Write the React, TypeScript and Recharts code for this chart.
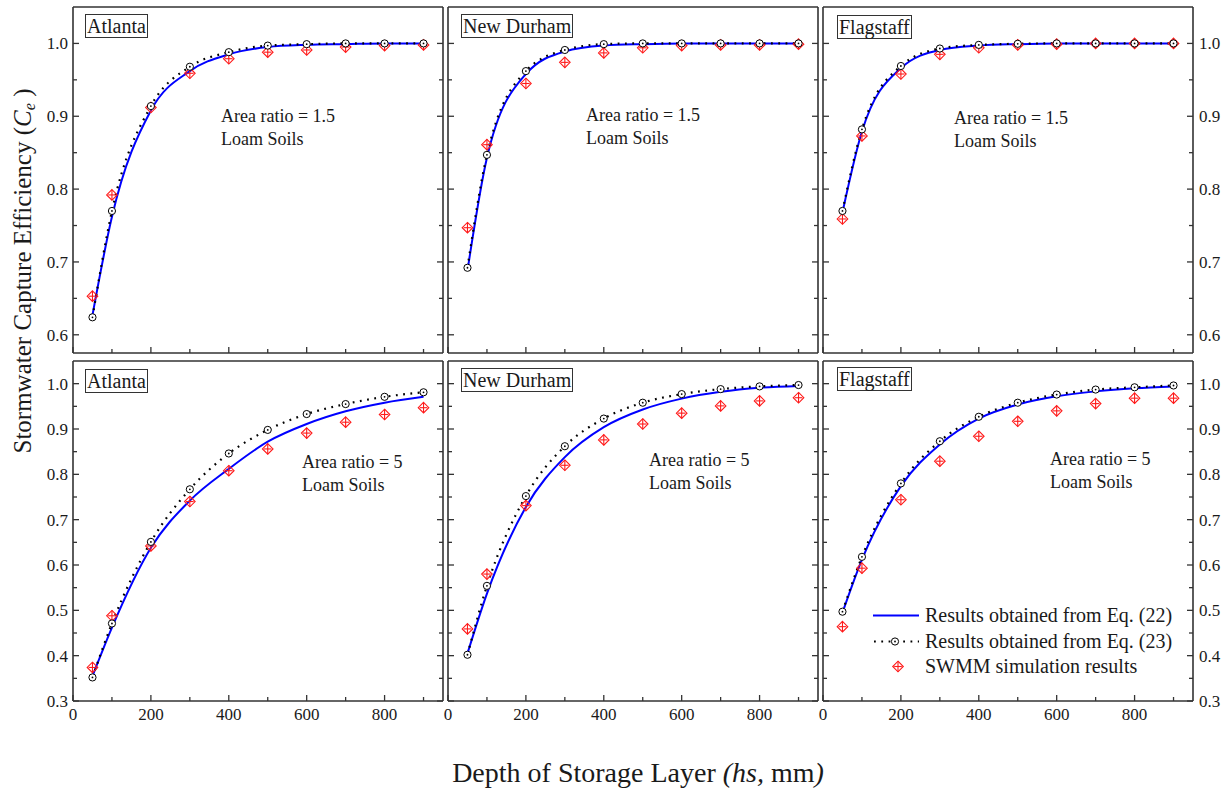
import React from "react";
import { ComposedChart, Line, XAxis, YAxis } from "recharts";

// storage layer depth (mm)
const depths = [50, 100, 200, 300, 400, 500, 600, 700, 800, 900];
const xTicks = [0, 100, 200, 300, 400, 500, 600, 700, 800, 900];
const yTicksTop = [0.6, 0.65, 0.7, 0.75, 0.8, 0.85, 0.9, 0.95, 1.0];
const yTicksBottom = [0.3, 0.35, 0.4, 0.45, 0.5, 0.55, 0.6, 0.65, 0.7, 0.75, 0.8, 0.85, 0.9, 0.95, 1.0];

// area ratio = 1.5
const atlanta15Eq22 = [0.627, 0.762, 0.908, 0.962, 0.985, 0.995, 0.998, 0.999, 1.0, 1.0];
const atlanta15Eq23 = [0.624, 0.77, 0.914, 0.968, 0.988, 0.997, 0.999, 1.0, 1.0, 1.0];
const atlanta15Swmm = [0.653, 0.792, 0.912, 0.959, 0.979, 0.988, 0.991, 0.995, 0.997, 0.998];
const durham15Eq22 = [0.688, 0.843, 0.958, 0.989, 0.997, 0.999, 1.0, 1.0, 1.0, 1.0];
const durham15Eq23 = [0.692, 0.847, 0.962, 0.991, 0.999, 1.0, 1.0, 1.0, 1.0, 1.0];
const durham15Swmm = [0.747, 0.861, 0.945, 0.974, 0.987, 0.994, 0.997, 0.998, 0.998, 0.999];
const flag15Eq22 = [0.768, 0.879, 0.966, 0.991, 0.997, 0.999, 1.0, 1.0, 1.0, 1.0];
const flag15Eq23 = [0.77, 0.882, 0.969, 0.993, 0.998, 0.9995, 1.0, 1.0, 1.0, 1.0];
const flag15Swmm = [0.759, 0.873, 0.958, 0.985, 0.994, 0.998, 0.999, 1.0, 1.0, 1.0];

// area ratio = 5
const atlanta5Eq22 = [0.355, 0.462, 0.638, 0.742, 0.812, 0.872, 0.911, 0.939, 0.958, 0.971];
const atlanta5Eq23 = [0.352, 0.471, 0.651, 0.767, 0.846, 0.898, 0.933, 0.955, 0.971, 0.981];
const atlanta5Swmm = [0.374, 0.488, 0.642, 0.74, 0.808, 0.856, 0.891, 0.915, 0.932, 0.947];
const durham5Eq22 = [0.405, 0.537, 0.728, 0.838, 0.904, 0.943, 0.967, 0.982, 0.991, 0.995];
const durham5Eq23 = [0.402, 0.554, 0.752, 0.862, 0.923, 0.958, 0.977, 0.988, 0.994, 0.997];
const durham5Swmm = [0.459, 0.58, 0.731, 0.82, 0.876, 0.911, 0.935, 0.951, 0.962, 0.969];
const flag5Eq22 = [0.495, 0.612, 0.774, 0.866, 0.923, 0.954, 0.972, 0.983, 0.99, 0.994];
const flag5Eq23 = [0.497, 0.618, 0.78, 0.873, 0.927, 0.958, 0.976, 0.987, 0.992, 0.996];
const flag5Swmm = [0.464, 0.593, 0.744, 0.829, 0.884, 0.917, 0.94, 0.956, 0.968, 0.968];

const FRAME = "#333";
const TEXT = "#1a1a1a";
const SERIF = "'Liberation Serif', 'Times New Roman', serif";
const ML = 40;
const MR = 34;
const MT = 4;
const MB = 30;
// axis boxes (must be non-zero or recharts skips drawing them)
const YW = 20;
const XH = 20;
const TH = 2;

const isMajor = (v: number, step: number) => {
  const r = v / step;
  return Math.abs(r - Math.round(r)) < 1e-6;
};

function XTick(props: any) {
  const { x, y, payload, show } = props;
  const v = payload.value;
  const major = isMajor(v, 200);
  return (
    <g>
      <line x1={x} x2={x} y1={y} y2={y - (major ? 6 : 4)} stroke={FRAME} strokeWidth={1.3} />
      {show && major && (
        <text x={x} y={y + 19} textAnchor="middle" fontSize={17} fontFamily={SERIF} fill={TEXT}>
          {v}
        </text>
      )}
    </g>
  );
}

function YTick(props: any) {
  const { x, y, payload, show, side } = props;
  const v = payload.value;
  const major = isMajor(v, 0.1);
  const dir = side === "left" ? 1 : -1;
  return (
    <g>
      <line x1={x} x2={x + dir * (major ? 6 : 4)} y1={y} y2={y} stroke={FRAME} strokeWidth={1.3} />
      {show && major && (
        <text
          x={side === "left" ? x - 5 : x + 6}
          y={y + 6}
          textAnchor={side === "left" ? "end" : "start"}
          fontSize={17}
          fontFamily={SERIF}
          fill={TEXT}
        >
          {v.toFixed(1)}
        </text>
      )}
    </g>
  );
}

function CircleDot(props: any) {
  const { cx, cy, index } = props;
  if (cx == null || cy == null) return <g key={index} />;
  return (
    <g key={index}>
      <circle cx={cx} cy={cy} r={3.6} fill="#fff" stroke="#000" strokeWidth={1} />
      <circle cx={cx} cy={cy} r={0.9} fill="#000" />
    </g>
  );
}

function Diamond(props: any) {
  const { cx, cy, index } = props;
  if (cx == null || cy == null) return <g key={index} />;
  const s = 5.3;
  return (
    <g key={index} stroke="#ff1a1a" strokeWidth={1.1} fill="none">
      <polygon points={`${cx},${cy - s} ${cx + s},${cy} ${cx},${cy + s} ${cx - s},${cy}`} />
      <line x1={cx - s + 1.5} x2={cx + s - 1.5} y1={cy} y2={cy} />
      <line x1={cx} x2={cx} y1={cy - s} y2={cy + s} />
    </g>
  );
}

type PanelProps = {
  left: number;
  top: number;
  w: number;
  h: number;
  domain: [number, number];
  yTicks: number[];
  eq22: number[];
  eq23: number[];
  swmm: number[];
  xLabels: boolean;
  yLabels: "left" | "right" | "none";
};

function Panel({ left, top, w, h, domain, yTicks, eq22, eq23, swmm, xLabels, yLabels }: PanelProps) {
  const data = depths.map((d, i) => ({ x: d, eq22: eq22[i], eq23: eq23[i], swmm: swmm[i] }));
  const axisLine = { stroke: FRAME, strokeWidth: 1.6 };
  return (
    <div style={{ position: "absolute", left: left - ML, top: top - MT }}>
      <ComposedChart
        width={w + ML + MR}
        height={h + MT + MB}
        data={data}
        margin={{ top: MT - TH, right: MR - YW, bottom: MB - XH, left: ML - YW }}
      >
        <XAxis
          dataKey="x"
          type="number"
          domain={[0, 950]}
          ticks={xTicks}
          interval={0}
          height={XH}
          tickSize={0}
          tickMargin={0}
          tickLine={false}
          axisLine={axisLine}
          allowDataOverflow
          tick={(p: any) => <XTick {...p} show={xLabels} />}
        />
        <XAxis
          xAxisId="top"
          orientation="top"
          type="number"
          domain={[0, 950]}
          height={TH}
          tick={false}
          tickLine={false}
          axisLine={axisLine}
        />
        <YAxis
          type="number"
          domain={domain}
          ticks={yTicks}
          interval={0}
          width={YW}
          tickSize={0}
          tickMargin={0}
          tickLine={false}
          axisLine={axisLine}
          allowDataOverflow
          tick={(p: any) => <YTick {...p} side="left" show={yLabels === "left"} />}
        />
        <YAxis
          yAxisId="r"
          orientation="right"
          type="number"
          domain={domain}
          ticks={yTicks}
          interval={0}
          width={YW}
          tickSize={0}
          tickMargin={0}
          tickLine={false}
          axisLine={axisLine}
          allowDataOverflow
          tick={(p: any) => <YTick {...p} side="right" show={yLabels === "right"} />}
        />
        <Line
          dataKey="swmm"
          stroke="none"
          isAnimationActive={false}
          activeDot={false}
          dot={(p: any) => <Diamond {...p} key={p.index} />}
        />
        <Line
          dataKey="eq22"
          type="monotone"
          stroke="#0000ff"
          strokeWidth={2}
          dot={false}
          activeDot={false}
          isAnimationActive={false}
        />
        <Line
          dataKey="eq23"
          type="monotone"
          stroke="#000"
          strokeWidth={2.2}
          strokeDasharray="1.8 5.5"
          activeDot={false}
          isAnimationActive={false}
          dot={(p: any) => <CircleDot {...p} key={p.index} />}
        />
      </ComposedChart>
    </div>
  );
}

const cityStyle: React.CSSProperties = {
  position: "absolute",
  border: `1px solid ${FRAME}`,
  fontFamily: SERIF,
  fontSize: 20,
  lineHeight: "22px",
  padding: "0 1px",
  color: TEXT,
  background: "#fff",
};

const noteStyle: React.CSSProperties = {
  position: "absolute",
  fontFamily: SERIF,
  fontSize: 18,
  lineHeight: "23px",
  color: TEXT,
  whiteSpace: "nowrap",
};

function Note({ left, top, ratio }: { left: number; top: number; ratio: string }) {
  return (
    <div style={{ ...noteStyle, left, top }}>
      <div>Area ratio = {ratio}</div>
      <div>Loam Soils</div>
    </div>
  );
}

export default function App() {
  const colL = [73, 448, 823];
  const W = 370;
  return (
    <div
      style={{
        position: "absolute",
        left: 0,
        top: 0,
        width: 1228,
        height: 791,
        overflow: "hidden",
        background: "#fff",
      }}
    >
      <Panel left={colL[0]} top={7} w={W} h={346} domain={[0.575, 1.05]} yTicks={yTicksTop}
        eq22={atlanta15Eq22} eq23={atlanta15Eq23} swmm={atlanta15Swmm} xLabels={false} yLabels="left" />
      <Panel left={colL[1]} top={7} w={W} h={346} domain={[0.575, 1.05]} yTicks={yTicksTop}
        eq22={durham15Eq22} eq23={durham15Eq23} swmm={durham15Swmm} xLabels={false} yLabels="none" />
      <Panel left={colL[2]} top={7} w={W} h={346} domain={[0.575, 1.05]} yTicks={yTicksTop}
        eq22={flag15Eq22} eq23={flag15Eq23} swmm={flag15Swmm} xLabels={false} yLabels="right" />
      <Panel left={colL[0]} top={361} w={W} h={340} domain={[0.3, 1.05]} yTicks={yTicksBottom}
        eq22={atlanta5Eq22} eq23={atlanta5Eq23} swmm={atlanta5Swmm} xLabels yLabels="left" />
      <Panel left={colL[1]} top={361} w={W} h={340} domain={[0.3, 1.05]} yTicks={yTicksBottom}
        eq22={durham5Eq22} eq23={durham5Eq23} swmm={durham5Swmm} xLabels yLabels="none" />
      <Panel left={colL[2]} top={361} w={W} h={340} domain={[0.3, 1.05]} yTicks={yTicksBottom}
        eq22={flag5Eq22} eq23={flag5Eq23} swmm={flag5Swmm} xLabels yLabels="right" />

      {/* city labels */}
      <div style={{ ...cityStyle, left: 85, top: 14 }}>Atlanta</div>
      <div style={{ ...cityStyle, left: 461, top: 14 }}>New Durham</div>
      <div style={{ ...cityStyle, left: 837, top: 15 }}>Flagstaff</div>
      <div style={{ ...cityStyle, left: 85, top: 369 }}>Atlanta</div>
      <div style={{ ...cityStyle, left: 461, top: 368 }}>New Durham</div>
      <div style={{ ...cityStyle, left: 837, top: 367 }}>Flagstaff</div>

      {/* annotations */}
      <Note left={221} top={105} ratio="1.5" />
      <Note left={586} top={104} ratio="1.5" />
      <Note left={954} top={107} ratio="1.5" />
      <Note left={302} top={451} ratio="5" />
      <Note left={649} top={449} ratio="5" />
      <Note left={1050} top={448} ratio="5" />

      {/* legend */}
      <div
        style={{
          position: "absolute",
          left: 873,
          top: 603,
          fontFamily: SERIF,
          fontSize: 20,
          lineHeight: "25.5px",
          color: TEXT,
          whiteSpace: "nowrap",
        }}
      >
        <div style={{ display: "flex", alignItems: "center" }}>
          <svg width={46} height={25}>
            <line x1={0} x2={46} y1={12.5} y2={12.5} stroke="#0000ff" strokeWidth={2} />
          </svg>
          <span style={{ marginLeft: 6 }}>Results obtained from Eq. (22)</span>
        </div>
        <div style={{ display: "flex", alignItems: "center" }}>
          <svg width={46} height={25}>
            <line x1={1} x2={46} y1={12.5} y2={12.5} stroke="#000" strokeWidth={2.2} strokeDasharray="1.8 5.5" />
            <CircleDot cx={22} cy={12.5} index={0} />
          </svg>
          <span style={{ marginLeft: 6 }}>Results obtained from Eq. (23)</span>
        </div>
        <div style={{ display: "flex", alignItems: "center" }}>
          <svg width={46} height={25}>
            <Diamond cx={25} cy={12.5} index={0} />
          </svg>
          <span style={{ marginLeft: 6 }}>SWMM simulation results</span>
        </div>
      </div>

      {/* axis titles */}
      <div
        style={{
          position: "absolute",
          left: 23 - 250,
          top: 271 - 15,
          width: 500,
          height: 30,
          lineHeight: "30px",
          textAlign: "center",
          fontFamily: SERIF,
          fontSize: 25,
          color: TEXT,
          transform: "rotate(-90deg)",
          whiteSpace: "nowrap",
        }}
      >
        Stormwater Capture Efficiency (<i>C</i>
        <sub style={{ fontSize: "0.65em", verticalAlign: "-0.25em", lineHeight: 0 }}>
          <i>e</i>
        </sub>{" "}
        )
      </div>
      <div
        style={{
          position: "absolute",
          left: 638 - 300,
          top: 773 - 17,
          width: 600,
          height: 34,
          lineHeight: "34px",
          textAlign: "center",
          fontFamily: SERIF,
          fontSize: 28,
          color: TEXT,
          whiteSpace: "nowrap",
        }}
      >
        Depth of Storage Layer <i>(hs,</i> mm<i>)</i>
      </div>
    </div>
  );
}
